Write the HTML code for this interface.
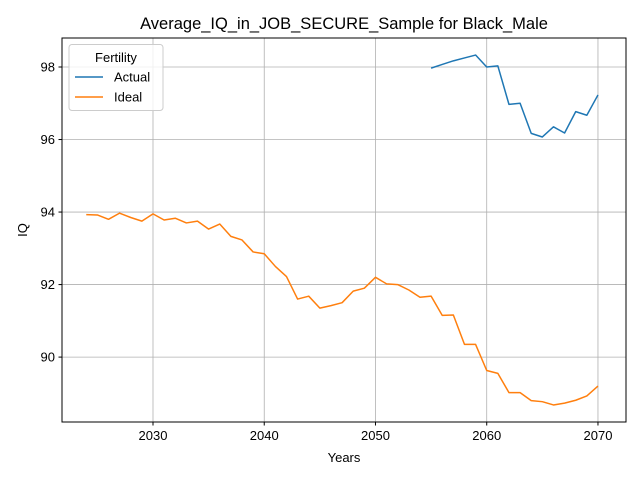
<!DOCTYPE html>
<html><head><meta charset="utf-8"><style>
html,body{margin:0;padding:0;background:#fff;}
svg{display:block;font-family:"Liberation Sans","DejaVu Sans",sans-serif;}
</style></head><body>
<svg id="chart" width="640" height="480" viewBox="0 0 640 480">
<rect width="640" height="480" fill="#fff"/>
<text x="344" y="29" font-size="16.5" text-anchor="middle">Average_IQ_in_JOB_SECURE_Sample for Black_Male</text>
<g id="grid"></g>
<g id="series"></g>
<rect x="62" y="38" width="564" height="384" fill="none" stroke="#000" stroke-width="1"/>
<g id="ticks"></g>
<text x="344" y="462" font-size="13" text-anchor="middle">Years</text>
<text x="27" y="230" font-size="13" text-anchor="middle" transform="rotate(-90 27 230)">IQ</text>
<g>
<rect x="69" y="44.5" width="94" height="66" rx="3" fill="#fff" fill-opacity="0.8" stroke="#ccc"/>
<text x="116" y="62" font-size="13" text-anchor="middle">Fertility</text>
<line x1="75" y1="77" x2="103" y2="77" stroke="#1f77b4" stroke-width="1.5"/>
<text x="114" y="81.5" font-size="13">Actual</text>
<line x1="75" y1="97" x2="103" y2="97" stroke="#ff7f0e" stroke-width="1.5"/>
<text x="114" y="101.5" font-size="13">Ideal</text>
</g>
</svg>
<script>
const idealYears = [2024,2025,2026,2027,2028,2029,2030,2031,2032,2033,2034,2035,2036,2037,2038,2039,2040,2041,2042,2043,2044,2045,2046,2047,2048,2049,2050,2051,2052,2053,2054,2055,2056,2057,2058,2059,2060,2061,2062,2063,2064,2065,2066,2067,2068,2069,2070];
const idealValues = [93.93,93.92,93.80,93.97,93.85,93.75,93.95,93.78,93.83,93.70,93.75,93.53,93.67,93.33,93.23,92.90,92.85,92.50,92.22,91.60,91.68,91.35,91.42,91.50,91.82,91.90,92.20,92.02,92.00,91.85,91.65,91.68,91.15,91.16,90.35,90.35,89.63,89.55,89.02,89.02,88.80,88.77,88.68,88.73,88.81,88.93,89.20];
const actualYears = [2055,2056,2057,2058,2059,2060,2061,2062,2063,2064,2065,2066,2067,2068,2069,2070];
const actualValues = [97.97,98.07,98.17,98.25,98.33,98.00,98.03,96.97,97.00,96.17,96.07,96.35,96.18,96.77,96.67,97.23];
const xTicks = [2030,2040,2050,2060,2070];
const yTicks = [90,92,94,96,98];

const NS="http://www.w3.org/2000/svg";
const L=62,R=626,T=38,B=422;
const xMin=2021.82,xMax=2072.52,yMin=88.21,yMax=98.8;
function xs(v){return L+(v-xMin)/(xMax-xMin)*(R-L);}
function ys(v){return B-(v-yMin)/(yMax-yMin)*(B-T);}
function mk(tag,attrs,parent){const e=document.createElementNS(NS,tag);for(const k in attrs)e.setAttribute(k,attrs[k]);parent.appendChild(e);return e;}
const grid=document.getElementById('grid'),ticks=document.getElementById('ticks'),series=document.getElementById('series');
xTicks.forEach(t=>{
  const x=xs(t);
  const g=mk('line',{x1:x,x2:x,y1:T,y2:B,stroke:'#b0b0b0','stroke-width':0.8},grid);
  
  
  const tk=mk('line',{x1:x,x2:x,y1:B,y2:B+3.5,stroke:'#000'},ticks);
  
  
  const tx=mk('text',{x:x,y:B+18,'font-size':13,'text-anchor':'middle'},ticks);
  tx.textContent=t;
  
  
});
yTicks.forEach(t=>{
  const y=ys(t);
  const g=mk('line',{x1:L,x2:R,y1:y,y2:y,stroke:'#b0b0b0','stroke-width':0.8},grid);
  
  
  const tk=mk('line',{x1:L-3.5,x2:L,y1:y,y2:y,stroke:'#000'},ticks);
  
  
  const tx=mk('text',{x:L-7,y:y+4.5,'font-size':13,'text-anchor':'end'},ticks);
  tx.textContent=t;
  
  
});
function line(xsArr,vals,color,name){
  const d=xsArr.map((x,i)=>(i?'L':'M')+xs(x).toFixed(2)+','+ys(vals[i]).toFixed(2)).join(' ');
  const p=mk('path',{d:d,fill:'none',stroke:color,'stroke-width':1.5,'stroke-linejoin':'round'},series);
  
  
}
line(actualYears,actualValues,'#1f77b4','actual-line');
line(idealYears,idealValues,'#ff7f0e','ideal-line');
</script>
</body></html>
